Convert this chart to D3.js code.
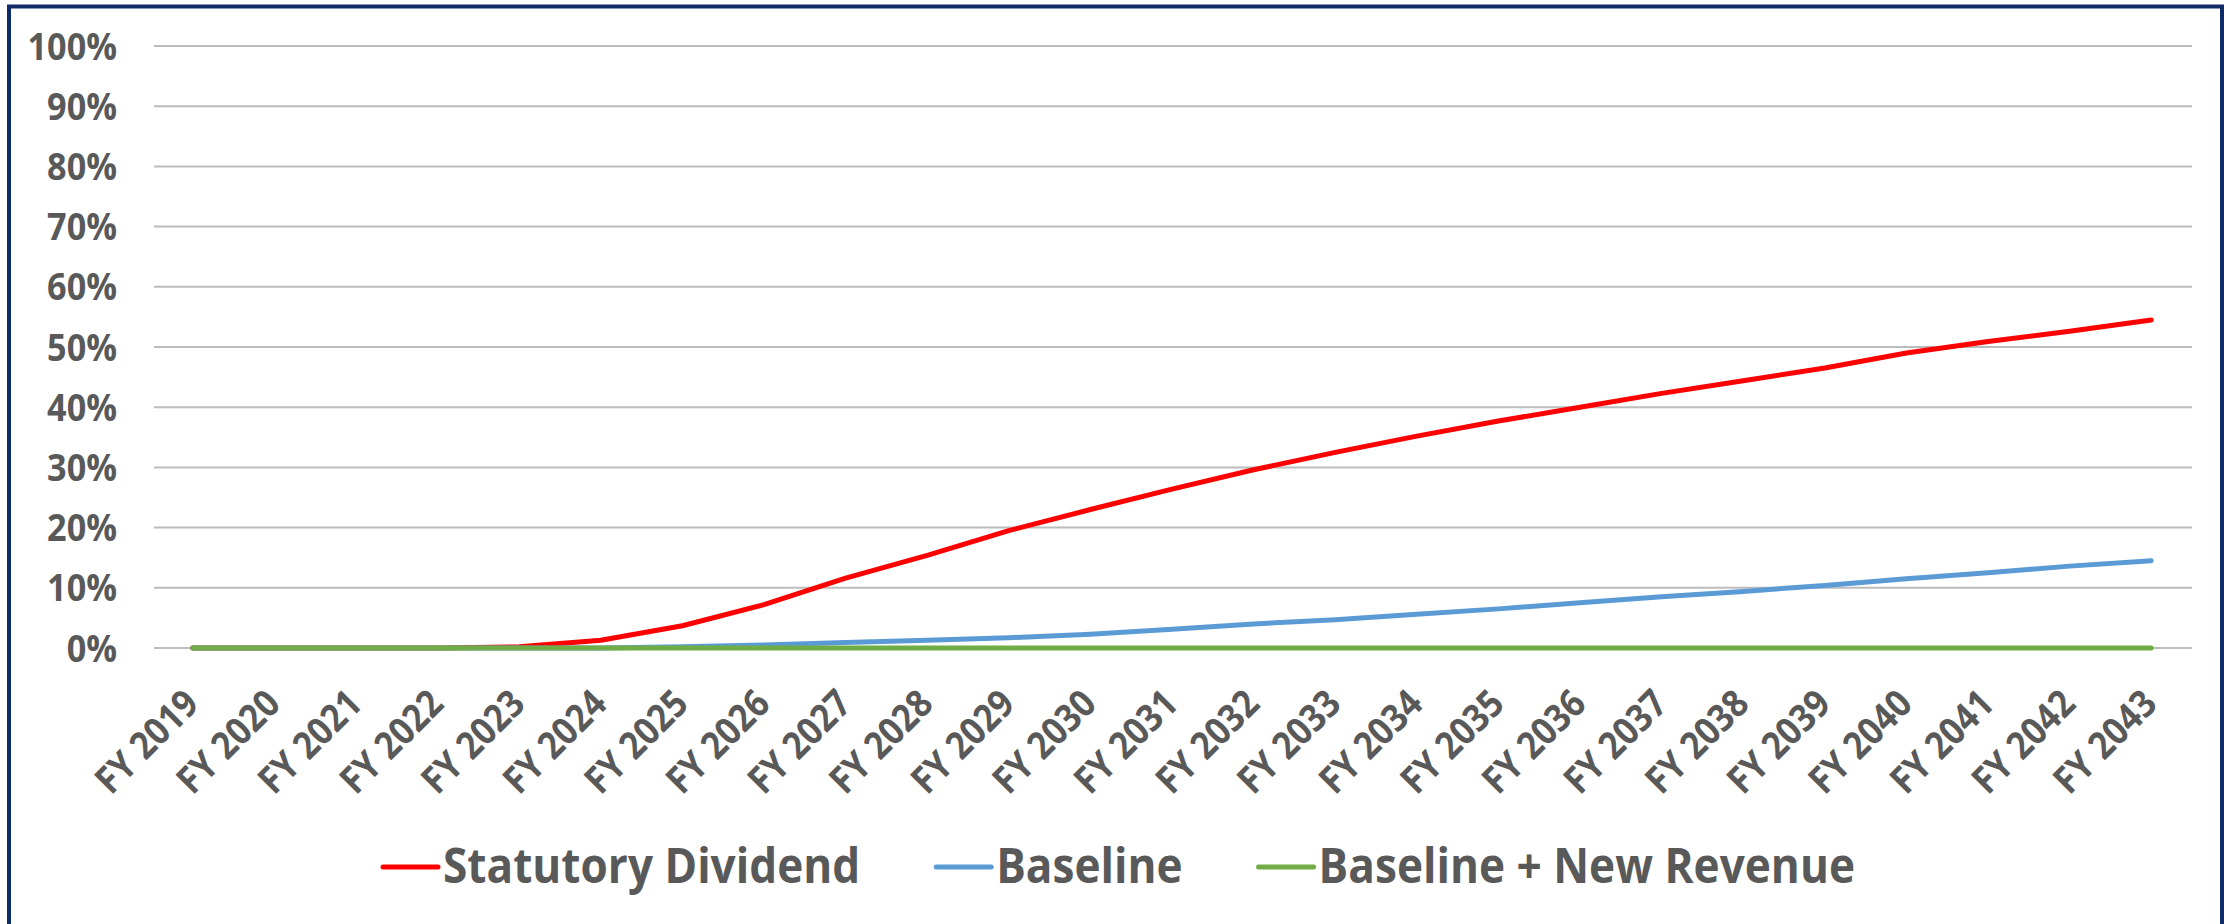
<!DOCTYPE html>
<html lang="en">
<head>
    <meta charset="UTF-8">
    <script src="https://d3js.org/d3.v7.min.js"></script>
    <style>
        body { margin: 0; background: white; }
        .tick-label {
            font-family: "Open Sans", sans-serif;
            font-weight: bold;
            font-size: 38px;
            fill: #595959;
        }
        .legend-label {
            font-family: "Open Sans", sans-serif;
            font-weight: bold;
            font-size: 48px;
            fill: #595959;
        }
    </style>
</head>
<body>
    <div id="chart"></div>

    <script>
        const years = d3.range(2019, 2044).map(y => "FY " + y);

        const statutoryDividend = [0, 0, 0, 0, 0.002, 0.013, 0.037, 0.072, 0.116, 0.154, 0.195, 0.230,
            0.264, 0.296, 0.325, 0.352, 0.377, 0.400, 0.423, 0.444, 0.465, 0.490, 0.509, 0.526, 0.545];
        const baseline = [0, 0, 0, 0, 0, 0, 0.002, 0.005, 0.009, 0.013, 0.017, 0.023,
            0.031, 0.040, 0.047, 0.056, 0.065, 0.075, 0.085, 0.094, 0.104, 0.115, 0.125, 0.136, 0.145];
        const baselineNewRevenue = years.map(() => 0);

        const yTicks = d3.range(0, 1.01, 0.1);

        const series = [
            { name: "Statutory Dividend", values: statutoryDividend, color: "#ff0000" },
            { name: "Baseline", values: baseline, color: "#5b9bd5" },
            { name: "Baseline + New Revenue", values: baselineNewRevenue, color: "#70ad47" }
        ];

        const width = 2226;
        const height = 924;
        const legendScale = 0.92;

        const svg = d3.select("#chart")
            .append("svg")
            .attr("width", width)
            .attr("height", height);

        svg.append("rect")
            .attr("width", width)
            .attr("height", height)
            .attr("fill", "white");

        const x = d3.scaleBand()
            .domain(years)
            .range([152, 2192]);

        const y = d3.scaleLinear()
            .domain([0, 1])
            .range([648, 46]);

        // gridlines
        svg.append("g")
            .selectAll("line")
            .data(yTicks)
            .enter().append("line")
            .attr("x1", x.range()[0] + 2)
            .attr("x2", x.range()[1])
            .attr("y1", d => y(d))
            .attr("y2", d => y(d))
            .attr("stroke", "#bcbcbc")
            .attr("stroke-width", 2);

        // y labels
        svg.append("g")
            .selectAll("text")
            .data(yTicks)
            .enter().append("text")
            .attr("class", "tick-label")
            .attr("text-anchor", "end")
            .attr("transform", d => `translate(117,${y(d) + 13.5}) scale(0.9,1)`)
            .text(d => Math.round(d * 100) + "%");

        // x labels
        svg.append("g")
            .selectAll("text")
            .data(years)
            .enter().append("text")
            .attr("class", "tick-label")
            .attr("text-anchor", "end")
            .attr("transform", d => `translate(${x(d) + x.bandwidth() / 2 + 8},706) rotate(-45) scale(0.9,1)`)
            .text(d => d);

        const line = d3.line()
            .x((d, i) => x(years[i]) + x.bandwidth() / 2)
            .y(d => y(d));

        svg.append("g")
            .selectAll("path")
            .data(series)
            .enter().append("path")
            .attr("d", d => line(d.values))
            .attr("fill", "none")
            .attr("stroke", d => d.color)
            .attr("stroke-width", 5)
            .attr("stroke-linejoin", "round")
            .attr("stroke-linecap", "round");

        // legend
        const legend = svg.append("g");
        const items = legend.selectAll("g")
            .data(series)
            .enter().append("g");

        items.append("line")
            .attr("x1", 0)
            .attr("x2", 55)
            .attr("y1", 867)
            .attr("y2", 867)
            .attr("stroke", d => d.color)
            .attr("stroke-width", 5)
            .attr("stroke-linecap", "round");

        items.append("text")
            .attr("class", "legend-label")
            .attr("transform", `translate(60,883) scale(${legendScale},1)`)
            .text(d => d.name);

        let offset = 0;
        const positions = [];
        items.each(function(d) {
            const w = 60 + this.querySelector("text").getComputedTextLength() * legendScale;
            positions.push(offset);
            offset += w + 76;
        });
        const totalW = offset - 76;
        const startX = 1119 - totalW / 2;
        items.attr("transform", (d, i) => `translate(${startX + positions[i]},0)`);

        // outer frame
        svg.append("rect")
            .attr("x", 9)
            .attr("y", 6.5)
            .attr("width", 2213)
            .attr("height", 960)
            .attr("fill", "none")
            .attr("stroke", "#102b6a")
            .attr("stroke-width", 4);
    </script>
</body>
</html>
